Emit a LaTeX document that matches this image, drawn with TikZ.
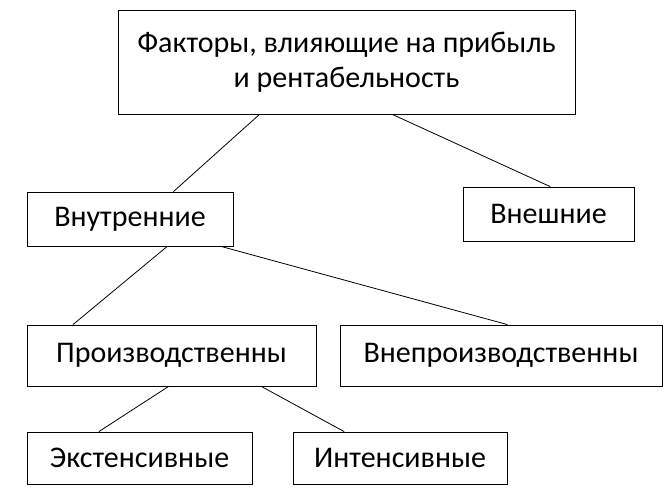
\documentclass[tikz,border=0pt]{standalone}
\usepackage{fontspec}
\setmainfont{Carlito}
\usetikzlibrary{calc}
\tikzset{
  factor/.style={draw, thick, minimum height=54pt, align=center, font=\fontsize{30}{35}\selectfont},
}
\begin{document}
\begin{tikzpicture}[x=1pt, y=-1pt, thick]
  \useasboundingbox (0,0) rectangle (668,500);
  % boxes
  \node[factor, minimum width=457pt, minimum height=104pt] (top) at (346.5,62) {Факторы, влияющие на прибыль\\и рентабельность};
  \node[factor, minimum width=206pt] (inner) at (130,219) {Внутренние};
  \node[factor, minimum width=171pt] (outer) at (548.5,214) {Внешние};
  \node[factor, minimum width=289pt, minimum height=61pt] (prod) at (171.5,355.5) {Производственны};
  \node[factor, minimum width=322pt, minimum height=61pt] (nonprod) at (501,355.5) {Внепроизводственны};
  \node[factor, minimum width=225pt, minimum height=52pt] (ext) at (139.5,458) {Экстенсивные};
  \node[factor, minimum width=214pt, minimum height=52pt] (int) at (400,458) {Интенсивные};
  % connectors
  \draw ($(top.south west)!0.31!(top.south east)$) -- ($(inner.north west)!0.71!(inner.north east)$);
  \draw ($(top.south west)!0.6!(top.south east)$) -- ($(outer.north west)!0.51!(outer.north east)$);
  \draw ($(inner.south west)!0.68!(inner.south east)$) -- ($(prod.north west)!0.16!(prod.north east)$);
  \draw ($(inner.south west)!0.94!(inner.south east)$) -- ($(nonprod.north west)!0.52!(nonprod.north east)$);
  \draw ($(prod.south west)!0.49!(prod.south east)$) -- ($(ext.north west)!0.32!(ext.north east)$);
  \draw ($(prod.south west)!0.81!(prod.south east)$) -- ($(int.north west)!0.24!(int.north east)$);
\end{tikzpicture}
\end{document}
